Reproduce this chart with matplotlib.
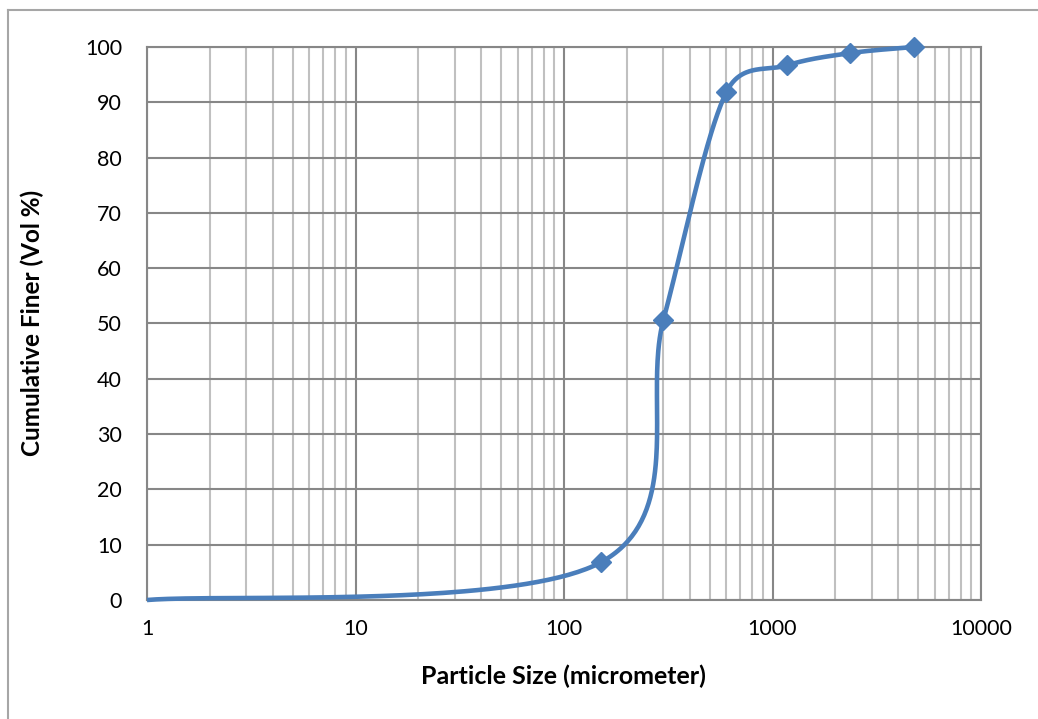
import numpy as np
import matplotlib
matplotlib.use("Agg")
import matplotlib.pyplot as plt
from matplotlib.lines import Line2D
from matplotlib.ticker import LogLocator, NullFormatter, FixedLocator

# Sieve analysis: cumulative percent finer per sieve opening
sieve_um = [150, 300, 600, 1180, 2360, 4750]
finer_pct = [6.8, 50.7, 91.8, 96.7, 98.9, 100.0]
# pan (start of the curve, no marker)
pan_um = 1
pan_pct = 0.0

x_ticks = [1, 10, 100, 1000, 10000]
x_tick_labels = ["1", "10", "100", "1000", "10000"]
y_ticks = list(range(0, 101, 10))
x_title = "Particle Size (micrometer)"
y_title = "Cumulative Finer (Vol %)"

LINE_BLUE = "#4a7ebb"
GRID_MAJOR = "#878787"
GRID_MINOR = "#c0c0c0"

plt.rcParams["font.family"] = ["Lato", "DejaVu Sans"]

W, H = 1038, 719
fig = plt.figure(figsize=(W / 100, H / 100), dpi=100)
ax = fig.add_axes([147 / W, 1 - 600 / H, (981 - 147) / W, (600 - 47) / H])
ax.set_xscale("log")
ax.set_xlim(1, 10000)
ax.set_ylim(0, 100)


def smooth_bezier(points, n=80):
    """Spreadsheet-style smoothed line: cubic Bezier segments whose
    control points follow the neighbouring points, computed in display space."""
    P = np.asarray(points, float)
    m = len(P)
    out = [P[0]]
    t = np.linspace(0, 1, n)[1:, None]
    for i in range(m - 1):
        p0 = P[i - 1] if i > 0 else P[i]
        p1, p2 = P[i], P[i + 1]
        p3 = P[i + 2] if i + 2 < m else P[i + 1]
        d12 = np.hypot(*(p2 - p1))
        d02 = np.hypot(*(p2 - p0))
        d13 = np.hypot(*(p3 - p1))
        f1 = 1 / 6 if d02 / 6 < d12 / 2 else d12 / (2 * d02)
        f2 = 1 / 6 if d13 / 6 < d12 / 2 else d12 / (2 * d13)
        c1 = p1 + (p2 - p0) * f1
        c2 = p2 - (p3 - p1) * f2
        seg = ((1 - t) ** 3) * p1 + 3 * ((1 - t) ** 2) * t * c1 \
            + 3 * (1 - t) * t ** 2 * c2 + t ** 3 * p2
        out.extend(seg)
    return np.array(out)


xs = [pan_um] + sieve_um
ys = [pan_pct] + finer_pct
disp = ax.transData.transform(np.column_stack([xs, ys]))
curve = ax.transData.inverted().transform(smooth_bezier(disp))

ax.plot(curve[:, 0], curve[:, 1], color=LINE_BLUE, lw=3.3,
        solid_capstyle="butt", clip_on=False, zorder=3)
ax.plot(sieve_um, finer_pct, linestyle="none", marker="D", markersize=10,
        markerfacecolor=LINE_BLUE, markeredgecolor=LINE_BLUE, clip_on=False,
        zorder=4)

# axes, ticks and grid
ax.xaxis.set_major_locator(FixedLocator(x_ticks))
ax.set_xticklabels(x_tick_labels)
ax.xaxis.set_minor_locator(LogLocator(base=10, subs=range(2, 10)))
ax.xaxis.set_minor_formatter(NullFormatter())
ax.set_yticks(y_ticks)
ax.set_yticklabels([str(v) for v in y_ticks])

ax.set_axisbelow(True)
ax.grid(which="major", axis="both", color=GRID_MAJOR, lw=1.5)
ax.grid(which="minor", axis="x", color=GRID_MINOR, lw=1.5)
for s in ax.spines.values():
    s.set_color(GRID_MAJOR)
    s.set_linewidth(1.5)

ax.tick_params(axis="both", which="both", length=0, labelsize=15.5,
               colors="black")
ax.tick_params(axis="y", pad=18)
ax.tick_params(axis="x", pad=14)

fig.text(563 / W, 1 - 676 / H, x_title, ha="center", va="center",
         fontsize=18, fontweight="bold")
fig.text(32 / W, 1 - 323 / H, y_title, ha="center", va="center",
         rotation=90, fontsize=17.5, fontweight="bold")

# chart-area frame
border = "#a6a6a6"
fig.add_artist(Line2D([8 / W, 8 / W], [0, 1 - 10 / H], color=border, lw=1.5))
fig.add_artist(Line2D([8 / W, 1], [1 - 10 / H, 1 - 10 / H], color=border, lw=1.5))

fig.savefig("out.png", dpi=100)
